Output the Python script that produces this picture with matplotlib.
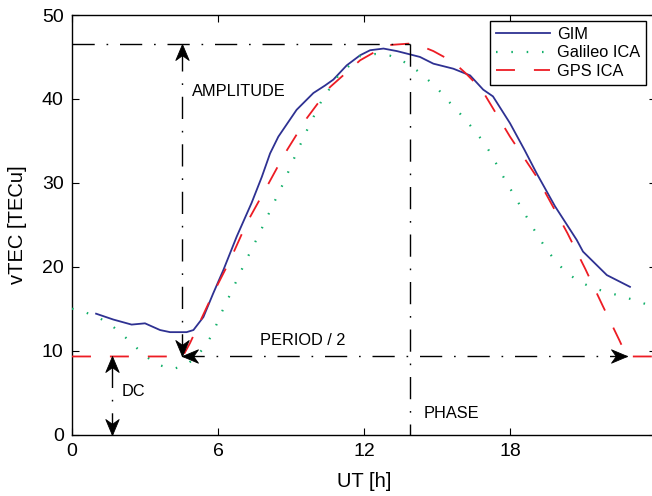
import numpy as np
import matplotlib
import matplotlib.pyplot as plt
from matplotlib.path import Path

matplotlib.use("Agg")

# GIM (solid blue)
gim_ut = [0.99, 1.7, 2.45, 3.0, 3.62, 4.03, 4.71, 4.99, 5.4, 5.8, 6.22, 6.77, 7.38, 7.8,
          8.14, 8.48, 9.23, 9.92, 10.4, 10.74, 11.29, 11.84, 12.25, 12.8, 13.35, 13.76,
          14.3, 14.85, 15.67, 16.36, 16.9, 17.3, 18.0, 18.6, 19.1, 19.85, 20.74, 21.0,
          21.98, 22.93]
gim_tec = [14.4, 13.7, 13.1, 13.25, 12.45, 12.2, 12.2, 12.45, 14.0, 16.8, 19.6, 23.6,
           27.6, 30.7, 33.5, 35.5, 38.7, 40.7, 41.6, 42.3, 44.0, 45.2, 45.8, 46.0, 45.7,
           45.4, 45.0, 44.2, 43.6, 42.8, 41.1, 40.3, 37.1, 33.9, 31.1, 27.2, 23.2, 21.8,
           19.0, 17.6]

# Galileo ICA (green dotted)
gal_ut = [0.0, 0.6, 1.15, 1.67, 2.15, 2.59, 3.04, 3.55, 4.14, 4.71, 5.15, 5.54, 5.84,
          6.06, 6.58, 7.11, 7.66, 8.18, 8.71, 9.2, 9.71, 10.26, 10.95, 11.84, 12.45,
          13.07, 13.65, 14.17, 14.62, 15.06, 15.48, 15.9, 16.29, 16.69, 17.04, 17.34,
          17.63, 17.95, 18.25, 18.55, 18.87, 19.18, 19.52, 19.89, 20.32, 20.81, 21.37,
          21.95, 22.55, 23.13, 23.72, 24.0]
gal_tec = [15.0, 14.5, 13.85, 12.9, 11.7, 10.5, 9.3, 8.3, 7.8, 8.3, 9.4, 10.8, 12.4,
           14.0, 17.2, 20.5, 23.7, 26.9, 30.1, 33.4, 36.6, 39.8, 42.8, 45.1, 45.35,
           45.15, 44.4, 43.4, 42.3, 41.1, 39.7, 38.4, 37.1, 35.7, 34.3, 32.8, 31.2,
           29.6, 28.1, 26.6, 25.0, 23.5, 22.0, 20.6, 19.3, 18.3, 17.5, 17.0, 16.5,
           16.0, 15.4, 15.2]

# GPS ICA (red dashed)
gps_ut = [0.0, 4.55, 4.85, 5.8, 6.5, 7.18, 8.0, 8.75, 9.65, 10.6, 11.84, 12.93, 13.9,
          14.17, 14.85, 15.67, 16.2, 16.84, 18.0, 19.1, 20.36, 21.1, 21.8, 22.5, 22.8, 24.0]
gps_tec = [9.3, 9.3, 10.9, 16.8, 20.8, 25.2, 29.5, 33.5, 37.7, 41.4, 44.6, 46.4, 46.6,
           46.5, 45.7, 44.4, 43.0, 41.1, 35.5, 30.7, 24.0, 19.7, 15.4, 11.2, 9.3, 9.3]

# annotation geometry of the GPS ICA parameters
dc_level = 9.3
peak_level = 46.6
amp_ut = 4.5
phase_ut = 13.9
period_end_ut = 22.8
dc_ut = 1.63

BLUE = '#2e3192'
GREEN = '#12b06a'
RED = '#ed1c24'
DASHDOT = (16, 8.5, 1.2, 8.5)

plt.rcParams['font.family'] = ['Liberation Sans', 'DejaVu Sans']

fig = plt.figure(figsize=(6.52, 4.96), dpi=100)
ax = fig.add_axes([72 / 652, 1 - 434.5 / 496, 584 / 652, 419.5 / 496])


def arrowhead(x, y, direction):
    """Draws a MATLAB-like arrow head whose tip sits at (x, y)."""
    verts = np.array([(0, 0), (-0.42, -1), (0, -0.7), (0.42, -1), (0, 0)])
    angle = {'up': 0, 'left': 90, 'down': 180, 'right': 270}[direction]
    t = np.deg2rad(angle)
    rot = np.array([[np.cos(t), -np.sin(t)], [np.sin(t), np.cos(t)]])
    verts = verts @ rot.T
    codes = [Path.MOVETO, Path.LINETO, Path.LINETO, Path.LINETO, Path.CLOSEPOLY]
    ax.plot([x], [y], marker=Path(verts, codes), markersize=23, color='k',
            markeredgewidth=0.6, linestyle='none', zorder=5, clip_on=False)


def dashdot(xs, ys):
    ax.plot(xs, ys, color='k', lw=1.0, dashes=DASHDOT, zorder=4)


ax.plot(gim_ut, gim_tec, color=BLUE, lw=1.3, label='GIM', zorder=3)
ax.plot(gal_ut, gal_tec, color=GREEN, lw=1.6, dashes=(0.7, 6.2), label='Galileo ICA',
        zorder=3)
ax.plot(gps_ut, gps_tec, color=RED, lw=1.3, dashes=(10.5, 10.5), label='GPS ICA',
        zorder=3)

# amplitude / phase / period / dc markers
dashdot([0, phase_ut], [peak_level, peak_level])
dashdot([amp_ut, amp_ut], [dc_level, peak_level])
dashdot([amp_ut, period_end_ut], [dc_level, dc_level])
dashdot([phase_ut, phase_ut], [peak_level, 0])
dashdot([dc_ut, dc_ut], [0, dc_level])
arrowhead(amp_ut, peak_level, 'up')
arrowhead(amp_ut, dc_level, 'down')
arrowhead(amp_ut, dc_level, 'left')
arrowhead(period_end_ut, dc_level, 'right')
arrowhead(dc_ut, dc_level, 'up')
arrowhead(dc_ut, 0, 'down')

ax.text(4.92, 40.9, 'AMPLITUDE', fontsize=11.8, va='center', ha='left')
ax.text(7.73, 11.26, 'PERIOD / 2', fontsize=11.8, va='center', ha='left')
ax.text(14.43, 2.56, 'PHASE', fontsize=11.8, va='center', ha='left')
ax.text(2.04, 5.1, 'DC', fontsize=11.8, va='center', ha='left')

ax.set_xlim(0, 24)
ax.set_ylim(0, 50)
ax.set_xticks([0, 6, 12, 18])
ax.set_yticks([0, 10, 20, 30, 40, 50])
ax.tick_params(direction='in', top=True, right=True, length=5, width=0.8,
               labelsize=14, pad=6)
for s in ax.spines.values():
    s.set_linewidth(1.0)
ax.set_xlabel('UT [h]', fontsize=14.5, labelpad=9)
ax.set_ylabel('vTEC [TECu]', fontsize=14.5, labelpad=11)

leg = ax.legend(loc='upper right', bbox_to_anchor=(646 / 652, 1 - 21 / 496),
                bbox_transform=fig.transFigure, borderaxespad=0, fancybox=False,
                edgecolor='k', fontsize=11.8, handlelength=3.3, framealpha=1,
                labelspacing=0.22, borderpad=0.35, handletextpad=0.45)
leg.get_frame().set_linewidth(1.0)

fig.savefig('out.png', dpi=100)
